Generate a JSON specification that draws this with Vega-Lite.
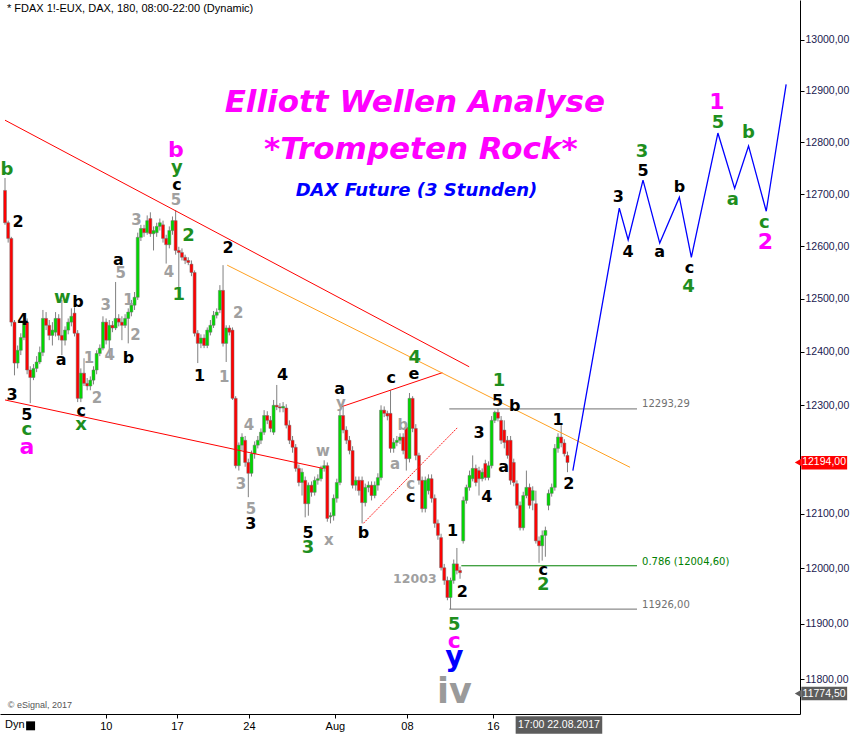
{
"$schema":"https://vega.github.io/schema/vega-lite/v6.json",
"width":800,"height":714,
"autosize":{"type":"none"},
"padding":{"left":0,"top":0,"right":51,"bottom":20},
"background":"white",
"config":{"view":{"stroke":null}},
"resolve":{"axis":{"x":"independent","y":"independent"}},
"datasets":{
"candles":[
{"i":0,"o":12707,"h":12731,"l":12641,"c":12645},{"i":1,"o":12645,"h":12649,"l":12607,"c":12615},{"i":2,"o":12615,"h":12618,"l":12448,"c":12456},{"i":3,"o":12456,"h":12460,"l":12356,"c":12379},{"i":4,"o":12379,"h":12412,"l":12369,"c":12403},{"i":5,"o":12403,"h":12435,"l":12394,"c":12427},{"i":6,"o":12427,"h":12467,"l":12422,"c":12456},{"i":7,"o":12456,"h":12463,"l":12358,"c":12366},{"i":8,"o":12366,"h":12373,"l":12304,"c":12352},{"i":9,"o":12352,"h":12377,"l":12347,"c":12369},
{"i":10,"o":12369,"h":12392,"l":12362,"c":12381},{"i":11,"o":12381,"h":12410,"l":12377,"c":12399},{"i":12,"o":12399,"h":12479,"l":12392,"c":12463},{"i":13,"o":12463,"h":12475,"l":12441,"c":12450},{"i":14,"o":12450,"h":12460,"l":12422,"c":12431},{"i":15,"o":12431,"h":12456,"l":12412,"c":12441},{"i":16,"o":12437,"h":12475,"l":12429,"c":12463},{"i":17,"o":12463,"h":12471,"l":12422,"c":12431},{"i":18,"o":12431,"h":12498,"l":12394,"c":12422},{"i":19,"o":12422,"h":12448,"l":12412,"c":12441},
{"i":20,"o":12441,"h":12463,"l":12433,"c":12456},{"i":21,"o":12456,"h":12482,"l":12448,"c":12467},{"i":22,"o":12473,"h":12484,"l":12429,"c":12435},{"i":23,"o":12435,"h":12441,"l":12306,"c":12313},{"i":24,"o":12313,"h":12369,"l":12306,"c":12360},{"i":25,"o":12360,"h":12388,"l":12336,"c":12341},{"i":26,"o":12341,"h":12351,"l":12328,"c":12336},{"i":27,"o":12336,"h":12354,"l":12328,"c":12347},{"i":28,"o":12347,"h":12373,"l":12339,"c":12366},{"i":29,"o":12366,"h":12403,"l":12358,"c":12397},
{"i":30,"o":12397,"h":12414,"l":12392,"c":12407},{"i":31,"o":12407,"h":12467,"l":12403,"c":12456},{"i":32,"o":12456,"h":12463,"l":12414,"c":12422},{"i":33,"o":12422,"h":12460,"l":12388,"c":12450},{"i":34,"o":12450,"h":12458,"l":12437,"c":12445},{"i":35,"o":12445,"h":12532,"l":12441,"c":12463},{"i":36,"o":12463,"h":12471,"l":12448,"c":12456},{"i":37,"o":12456,"h":12467,"l":12422,"c":12450},{"i":38,"o":12450,"h":12471,"l":12445,"c":12463},{"i":39,"o":12463,"h":12482,"l":12416,"c":12475},
{"i":40,"o":12475,"h":12498,"l":12467,"c":12488},{"i":41,"o":12488,"h":12513,"l":12479,"c":12503},{"i":42,"o":12503,"h":12626,"l":12498,"c":12617},{"i":43,"o":12617,"h":12641,"l":12610,"c":12634},{"i":44,"o":12634,"h":12641,"l":12618,"c":12626},{"i":45,"o":12626,"h":12659,"l":12622,"c":12649},{"i":46,"o":12653,"h":12665,"l":12618,"c":12624},{"i":47,"o":12624,"h":12638,"l":12592,"c":12630},{"i":48,"o":12626,"h":12645,"l":12618,"c":12638},{"i":49,"o":12638,"h":12653,"l":12630,"c":12645},
{"i":50,"o":12641,"h":12649,"l":12607,"c":12615},{"i":51,"o":12615,"h":12622,"l":12567,"c":12603},{"i":52,"o":12603,"h":12638,"l":12596,"c":12630},{"i":53,"o":12630,"h":12657,"l":12622,"c":12649},{"i":54,"o":12649,"h":12669,"l":12584,"c":12592},{"i":55,"o":12592,"h":12599,"l":12516,"c":12588},{"i":56,"o":12588,"h":12596,"l":12573,"c":12579},{"i":57,"o":12579,"h":12584,"l":12566,"c":12573},{"i":58,"o":12573,"h":12579,"l":12564,"c":12569},{"i":59,"o":12566,"h":12573,"l":12543,"c":12550},
{"i":60,"o":12550,"h":12554,"l":12429,"c":12435},{"i":61,"o":12435,"h":12441,"l":12379,"c":12416},{"i":62,"o":12416,"h":12433,"l":12407,"c":12426},{"i":63,"o":12426,"h":12433,"l":12407,"c":12412},{"i":64,"o":12412,"h":12446,"l":12407,"c":12441},{"i":65,"o":12437,"h":12460,"l":12431,"c":12450},{"i":66,"o":12450,"h":12477,"l":12445,"c":12469},{"i":67,"o":12469,"h":12482,"l":12463,"c":12475},{"i":68,"o":12479,"h":12526,"l":12473,"c":12516},{"i":69,"o":12516,"h":12564,"l":12410,"c":12416},
{"i":70,"o":12416,"h":12450,"l":12381,"c":12445},{"i":71,"o":12445,"h":12450,"l":12431,"c":12437},{"i":72,"o":12441,"h":12446,"l":12310,"c":12313},{"i":73,"o":12313,"h":12317,"l":12183,"c":12188},{"i":74,"o":12188,"h":12231,"l":12179,"c":12226},{"i":75,"o":12226,"h":12248,"l":12216,"c":12241},{"i":76,"o":12235,"h":12243,"l":12186,"c":12194},{"i":77,"o":12194,"h":12201,"l":12130,"c":12174},{"i":78,"o":12174,"h":12216,"l":12168,"c":12210},{"i":79,"o":12210,"h":12233,"l":12201,"c":12226},
{"i":80,"o":12226,"h":12243,"l":12220,"c":12235},{"i":81,"o":12235,"h":12257,"l":12228,"c":12250},{"i":82,"o":12250,"h":12291,"l":12245,"c":12281},{"i":83,"o":12281,"h":12289,"l":12265,"c":12272},{"i":84,"o":12272,"h":12280,"l":12250,"c":12257},{"i":85,"o":12250,"h":12310,"l":12245,"c":12300},{"i":86,"o":12300,"h":12338,"l":12291,"c":12297},{"i":87,"o":12297,"h":12304,"l":12287,"c":12295},{"i":88,"o":12295,"h":12306,"l":12287,"c":12298},{"i":89,"o":12295,"h":12302,"l":12257,"c":12263},
{"i":90,"o":12263,"h":12272,"l":12228,"c":12235},{"i":91,"o":12235,"h":12243,"l":12212,"c":12222},{"i":92,"o":12222,"h":12228,"l":12177,"c":12183},{"i":93,"o":12183,"h":12190,"l":12150,"c":12157},{"i":94,"o":12157,"h":12183,"l":12133,"c":12176},{"i":95,"o":12161,"h":12168,"l":12093,"c":12118},{"i":96,"o":12118,"h":12157,"l":12096,"c":12152},{"i":97,"o":12152,"h":12159,"l":12131,"c":12139},{"i":98,"o":12139,"h":12168,"l":12133,"c":12161},{"i":99,"o":12161,"h":12172,"l":12153,"c":12164},
{"i":100,"o":12164,"h":12188,"l":12159,"c":12183},{"i":101,"o":12183,"h":12198,"l":12177,"c":12188},{"i":102,"o":12188,"h":12194,"l":12085,"c":12091},{"i":103,"o":12094,"h":12102,"l":12082,"c":12096},{"i":104,"o":12096,"h":12135,"l":12087,"c":12128},{"i":105,"o":12128,"h":12164,"l":12120,"c":12157},{"i":106,"o":12157,"h":12291,"l":12152,"c":12281},{"i":107,"o":12281,"h":12297,"l":12248,"c":12254},{"i":108,"o":12254,"h":12261,"l":12228,"c":12235},{"i":109,"o":12235,"h":12243,"l":12209,"c":12216},
{"i":110,"o":12216,"h":12224,"l":12146,"c":12152},{"i":111,"o":12152,"h":12168,"l":12142,"c":12161},{"i":112,"o":12161,"h":12168,"l":12133,"c":12142},{"i":113,"o":12161,"h":12168,"l":12082,"c":12120},{"i":114,"o":12120,"h":12155,"l":12113,"c":12148},{"i":115,"o":12148,"h":12159,"l":12139,"c":12152},{"i":116,"o":12152,"h":12159,"l":12124,"c":12133},{"i":117,"o":12133,"h":12159,"l":12128,"c":12152},{"i":118,"o":12152,"h":12174,"l":12142,"c":12166},{"i":119,"o":12166,"h":12300,"l":12161,"c":12291},
{"i":120,"o":12291,"h":12298,"l":12278,"c":12285},{"i":121,"o":12285,"h":12290,"l":12272,"c":12280},{"i":122,"o":12285,"h":12328,"l":12212,"c":12220},{"i":123,"o":12220,"h":12239,"l":12212,"c":12231},{"i":124,"o":12231,"h":12243,"l":12224,"c":12235},{"i":125,"o":12235,"h":12248,"l":12228,"c":12241},{"i":126,"o":12241,"h":12248,"l":12209,"c":12216},{"i":127,"o":12259,"h":12267,"l":12179,"c":12201},{"i":128,"o":12201,"h":12323,"l":12194,"c":12313},{"i":129,"o":12313,"h":12317,"l":12250,"c":12257},
{"i":130,"o":12257,"h":12265,"l":12198,"c":12207},{"i":131,"o":12207,"h":12212,"l":12153,"c":12161},{"i":132,"o":12161,"h":12168,"l":12102,"c":12109},{"i":133,"o":12109,"h":12168,"l":12102,"c":12161},{"i":134,"o":12142,"h":12172,"l":12135,"c":12164},{"i":135,"o":12164,"h":12172,"l":12120,"c":12128},{"i":136,"o":12128,"h":12135,"l":12074,"c":12082},{"i":137,"o":12082,"h":12089,"l":12052,"c":12060},{"i":138,"o":12056,"h":12063,"l":11996,"c":12001},{"i":139,"o":12001,"h":12008,"l":11970,"c":11978},
{"i":140,"o":11978,"h":11985,"l":11942,"c":11947},{"i":141,"o":11947,"h":11983,"l":11926,"c":11978},{"i":142,"o":11978,"h":12016,"l":11972,"c":12008},{"i":143,"o":12008,"h":12037,"l":11989,"c":11996},{"i":144,"o":11996,"h":12003,"l":11981,"c":11992},{"i":145,"o":12050,"h":12131,"l":12045,"c":12124},{"i":146,"o":12124,"h":12153,"l":12118,"c":12148},{"i":147,"o":12148,"h":12179,"l":12142,"c":12170},{"i":148,"o":12164,"h":12207,"l":12159,"c":12183},{"i":149,"o":12183,"h":12190,"l":12150,"c":12157},
{"i":150,"o":12179,"h":12186,"l":12133,"c":12164},{"i":151,"o":12164,"h":12183,"l":12159,"c":12176},{"i":152,"o":12192,"h":12199,"l":12161,"c":12166},{"i":153,"o":12166,"h":12196,"l":12161,"c":12188},{"i":154,"o":12188,"h":12280,"l":12183,"c":12272},{"i":155,"o":12272,"h":12290,"l":12267,"c":12287},{"i":156,"o":12287,"h":12293.29,"l":12270,"c":12276},{"i":157,"o":12272,"h":12280,"l":12228,"c":12235},{"i":158,"o":12254,"h":12272,"l":12220,"c":12231},{"i":159,"o":12235,"h":12243,"l":12201,"c":12207},
{"i":160,"o":12235,"h":12243,"l":12153,"c":12161},{"i":161,"o":12194,"h":12201,"l":12150,"c":12157},{"i":162,"o":12155,"h":12161,"l":12109,"c":12115},{"i":163,"o":12115,"h":12122,"l":12069,"c":12074},{"i":164,"o":12074,"h":12140,"l":12069,"c":12133},{"i":165,"o":12133,"h":12179,"l":12128,"c":12148},{"i":166,"o":12148,"h":12155,"l":12109,"c":12115},{"i":167,"o":12124,"h":12150,"l":12106,"c":12142},{"i":168,"o":12118,"h":12142,"l":12045,"c":12050},{"i":169,"o":12050,"h":12058,"l":12010,"c":12041},
{"i":170,"o":12041,"h":12069,"l":12014,"c":12060},{"i":171,"o":12060,"h":12076,"l":12021,"c":12069},{"i":172,"o":12115,"h":12144,"l":12106,"c":12137},{"i":173,"o":12137,"h":12155,"l":12131,"c":12148},{"i":174,"o":12148,"h":12228,"l":12142,"c":12220},{"i":175,"o":12220,"h":12248,"l":12212,"c":12241},{"i":176,"o":12241,"h":12263,"l":12222,"c":12230},{"i":177,"o":12230,"h":12237,"l":12205,"c":12210},{"i":178,"o":12207,"h":12214,"l":12176,"c":12194}
],
"lines":[
{"line":"upper","x":0,"p":12843},{"line":"upper","x":146.9,"p":12372},
{"line":"lower","x":0,"p":12310},{"line":"lower","x":100.6,"p":12183},
{"line":"ace","x":106.3,"p":12297},{"line":"ace","x":138.4,"p":12361},
{"line":"bd","x":113.4,"p":12082},{"line":"bd","x":143.1,"p":12258},
{"line":"orange","x":70.3,"p":12564},{"line":"orange","x":197.8,"p":12185},
{"line":"f1","x":140.6,"p":12293.29},{"line":"f1","x":200,"p":12293.29},
{"line":"f0","x":140.6,"p":11926},{"line":"f0","x":200,"p":11926},
{"line":"f786","x":144.4,"p":12004.6},{"line":"f786","x":200,"p":12004.6},
{"line":"proj","x":179.7,"p":12179},{"line":"proj","x":194.4,"p":12673},{"line":"proj","x":197.2,"p":12612},{"line":"proj","x":201.9,"p":12727},{"line":"proj","x":207.2,"p":12606},{"line":"proj","x":213.4,"p":12694},{"line":"proj","x":217.2,"p":12579},{"line":"proj","x":225.6,"p":12818},{"line":"proj","x":230.9,"p":12711},{"line":"proj","x":235.3,"p":12793},{"line":"proj","x":240.9,"p":12667},{"line":"proj","x":247.2,"p":12913}
],
"labels":[
{"deg":"minute","t":"2","x":4.1,"p":12646},{"deg":"minute","t":"4","x":5.6,"p":12460},{"deg":"minute","t":"3","x":2.2,"p":12320},{"deg":"minute","t":"5","x":6.9,"p":12282},{"deg":"minute","t":"b","x":23.1,"p":12494},{"deg":"minute","t":"c","x":24.1,"p":12290},{"deg":"minute","t":"a","x":17.8,"p":12385},{"deg":"minute","t":"a","x":35.9,"p":12573},{"deg":"minute","t":"b","x":39.1,"p":12389},{"deg":"minute","t":"c","x":54.4,"p":12717},{"deg":"minute","t":"1","x":61.6,"p":12355},{"deg":"minute","t":"2","x":70.6,"p":12596},{"deg":"minute","t":"4","x":87.8,"p":12357},{"deg":"minute","t":"3","x":77.8,"p":12080},{"deg":"minute","t":"5","x":95.9,"p":12064},{"deg":"minute","t":"a","x":105.9,"p":12331},{"deg":"minute","t":"b","x":113.4,"p":12064},{"deg":"minute","t":"c","x":122.2,"p":12351},{"deg":"minute","t":"e","x":129.4,"p":12359},{"deg":"minute","t":"c","x":128.4,"p":12130},{"deg":"minute","t":"1","x":141.6,"p":12068},{"deg":"minute","t":"2","x":144.7,"p":11957},{"deg":"minute","t":"3","x":150,"p":12249},{"deg":"minute","t":"4","x":152.5,"p":12130},{"deg":"minute","t":"a","x":157.8,"p":12185},{"deg":"minute","t":"5","x":155.9,"p":12308},{"deg":"minute","t":"b","x":161.3,"p":12299},{"deg":"minute","t":"1","x":175,"p":12273},{"deg":"minute","t":"2","x":178.4,"p":12154},{"deg":"minute","t":"c","x":170.3,"p":11997},{"deg":"minute","t":"3","x":194.1,"p":12694},{"deg":"minute","t":"4","x":197.2,"p":12589},{"deg":"minute","t":"5","x":201.9,"p":12744},{"deg":"minute","t":"a","x":207.2,"p":12589},{"deg":"minute","t":"b","x":213.4,"p":12713},{"deg":"minute","t":"c","x":216.6,"p":12558},
{"deg":"minuette","t":"1","x":26.6,"p":12389},{"deg":"minuette","t":"2","x":29.1,"p":12314},{"deg":"minuette","t":"3","x":31.9,"p":12488},{"deg":"minuette","t":"4","x":33.1,"p":12394},{"deg":"minuette","t":"5","x":36.6,"p":12549},{"deg":"minuette","t":"1","x":39.1,"p":12498},{"deg":"minuette","t":"2","x":41.3,"p":12432},{"deg":"minuette","t":"3","x":41.6,"p":12650},{"deg":"minuette","t":"4","x":51.9,"p":12551},{"deg":"minuette","t":"5","x":54.1,"p":12688},{"deg":"minuette","t":"1","x":69.4,"p":12353},{"deg":"minuette","t":"2","x":73.8,"p":12473},{"deg":"minuette","t":"4","x":77.2,"p":12264},{"deg":"minuette","t":"3","x":74.7,"p":12155},{"deg":"minuette","t":"5","x":77.8,"p":12108},{"deg":"minuette","t":"w","x":100.6,"p":12216},{"deg":"minuette","t":"x","x":102.5,"p":12051},{"deg":"minuette","t":"y","x":106.3,"p":12305},{"deg":"minuette","t":"b","x":125.9,"p":12264},{"deg":"minuette","t":"a","x":123.4,"p":12192},{"deg":"minuette","t":"c","x":128.4,"p":12155},
{"deg":"level","t":"12003","x":129.7,"p":11980},
{"deg":"minor","t":"b","x":0.6,"p":12746},{"deg":"minor","t":"c","x":6.9,"p":12255},{"deg":"minor","t":"w","x":18.1,"p":12501},{"deg":"minor","t":"x","x":24.1,"p":12264},{"deg":"minor","t":"y","x":54.4,"p":12750},{"deg":"minor","t":"2","x":58.1,"p":12619},{"deg":"minor","t":"1","x":55,"p":12507},{"deg":"minor","t":"3","x":95.9,"p":12037},{"deg":"minor","t":"4","x":129.7,"p":12389},{"deg":"minor","t":"1","x":156.3,"p":12346},{"deg":"minor","t":"5","x":142.2,"p":11897},{"deg":"minor","t":"2","x":170.3,"p":11969},{"deg":"minor","t":"3","x":201.6,"p":12781},{"deg":"minor","t":"4","x":216.3,"p":12522},{"deg":"minor","t":"5","x":225.6,"p":12837},{"deg":"minor","t":"a","x":230.3,"p":12688},{"deg":"minor","t":"b","x":235.3,"p":12818},{"deg":"minor","t":"c","x":240.3,"p":12644},
{"deg":"intermediate","t":"a","x":6.9,"p":12223},{"deg":"intermediate","t":"b","x":54.1,"p":12785},{"deg":"intermediate","t":"c","x":142.2,"p":11868},{"deg":"intermediate","t":"1","x":225.3,"p":12878},{"deg":"intermediate","t":"2","x":240.6,"p":12608},
{"deg":"primary","t":"y","x":142.2,"p":11838},
{"deg":"cycle","t":"iv","x":142.2,"p":11778},
{"deg":"title","t":"Elliott Wellen Analyse","x":129.7,"p":12876},{"deg":"title","t":"*Trompeten Rock*","x":131.6,"p":12785},
{"deg":"subtitle","t":"DAX Future (3 Stunden)","x":130.2,"p":12705},
{"deg":"fib","t":"12293,29","x":201.6,"p":12303},{"deg":"fib","t":"11926,00","x":201.6,"p":11933},
{"deg":"fib786","t":"0.786 (12004,60)","x":201.6,"p":12011},
{"deg":"header","t":"* FDAX 1!-EUX, DAX, 180, 08:00-22:00 (Dynamic)","x":0.6,"p":13061},
{"deg":"copyright","t":"© eSignal, 2017","x":0.9,"p":11754},
{"deg":"dyn","t":"Dyn","x":0,"p":11718},
{"deg":"tag","t":"12194,00","x":259.2,"p":12194},{"deg":"tag","t":"11774,50","x":259.2,"p":11774.5},{"deg":"tag","t":"17:00 22.08.2017","x":175.3,"p":11719}
],
"boxes":[
{"box":"last","x":252,"x2":266.5,"p":12206,"p2":12181},
{"box":"cross","x":252,"x2":266.5,"p":11786.5,"p2":11762.5},
{"box":"date","x":161.6,"x2":189,"p":11734,"p2":11703}
],
"arrows":[{"box":"last","x":251,"p":12194},{"box":"cross","x":251,"p":11774.5},{"box":"lock","x":8.1,"p":11717}]
},
"layer":[
{"data":{"name":"candles"},"mark":{"type":"rule","color":"#808080","strokeWidth":1},
"encoding":{
"x":{"field":"i","type":"quantitative","scale":{"domain":[0,250],"nice":false,"zero":false},
"axis":{"orient":"bottom","values":[31.9,54.4,77.2,104.4,127.2,154.4],"labelExpr":"datum.value < 40 ? '10' : datum.value < 60 ? '17' : datum.value < 90 ? '24' : datum.value < 110 ? 'Aug' : datum.value < 140 ? '08' : '16'","title":null,"grid":false,"domainColor":"#000000","tickColor":"#000000","tickSize":4,"labelFont":"Liberation Sans","labelFontSize":11,"labelColor":"#000000","labelPadding":2,"labelFlush":false,"labelOverlap":false}},
"y":{"field":"l","type":"quantitative","scale":{"type":"log","domain":[11738,13079],"nice":false},
"axis":{"orient":"right","values":[11800,11900,12000,12100,12300,12400,12500,12600,12700,12800,12900,13000],"labelExpr":"replace(format(datum.value, '.2f'), '.', ',')","title":null,"grid":false,"domainColor":"#000000","tickColor":"#000000","tickSize":4,"labelFont":"Liberation Sans","labelFontSize":10.5,"labelColor":"#202050","labelPadding":1,"labelOverlap":false,"labelFlush":false}},
"y2":{"field":"h"}}},
{"data":{"name":"candles"},"mark":{"type":"bar","width":3,"stroke":"#707070","strokeWidth":0.5},
"encoding":{
"x":{"field":"i","type":"quantitative","scale":{"domain":[0,250],"nice":false,"zero":false},"axis":null},
"y":{"field":"o","type":"quantitative","scale":{"type":"log","domain":[11738,13079],"nice":false},"axis":null},
"y2":{"field":"c"},
"fill":{"condition":{"test":"datum.c < datum.o","value":"#ff0000"},"value":"#00d800"}}},
{"data":{"name":"lines"},"transform":[{"filter":"datum.line == 'upper' || datum.line == 'lower' || datum.line == 'ace'"}],"mark":{"type":"line","color":"#ff0000","strokeWidth":1},
"encoding":{"x":{"field":"x","type":"quantitative","scale":{"domain":[0,250],"nice":false,"zero":false},"axis":null},"y":{"field":"p","type":"quantitative","scale":{"type":"log","domain":[11738,13079],"nice":false},"axis":null},"detail":{"field":"line"}}},
{"data":{"name":"lines"},"transform":[{"filter":"datum.line == 'bd'"}],"mark":{"type":"line","color":"#ff2020","strokeWidth":1,"strokeDash":[2,1]},
"encoding":{"x":{"field":"x","type":"quantitative","scale":{"domain":[0,250],"nice":false,"zero":false},"axis":null},"y":{"field":"p","type":"quantitative","scale":{"type":"log","domain":[11738,13079],"nice":false},"axis":null}}},
{"data":{"name":"lines"},"transform":[{"filter":"datum.line == 'orange'"}],"mark":{"type":"line","color":"#ffa020","strokeWidth":1},
"encoding":{"x":{"field":"x","type":"quantitative","scale":{"domain":[0,250],"nice":false,"zero":false},"axis":null},"y":{"field":"p","type":"quantitative","scale":{"type":"log","domain":[11738,13079],"nice":false},"axis":null}}},
{"data":{"name":"lines"},"transform":[{"filter":"datum.line == 'f1' || datum.line == 'f0'"}],"mark":{"type":"line","color":"#707070","strokeWidth":1},
"encoding":{"x":{"field":"x","type":"quantitative","scale":{"domain":[0,250],"nice":false,"zero":false},"axis":null},"y":{"field":"p","type":"quantitative","scale":{"type":"log","domain":[11738,13079],"nice":false},"axis":null},"detail":{"field":"line"}}},
{"data":{"name":"lines"},"transform":[{"filter":"datum.line == 'f786'"}],"mark":{"type":"line","color":"#008000","strokeWidth":1},
"encoding":{"x":{"field":"x","type":"quantitative","scale":{"domain":[0,250],"nice":false,"zero":false},"axis":null},"y":{"field":"p","type":"quantitative","scale":{"type":"log","domain":[11738,13079],"nice":false},"axis":null}}},
{"data":{"name":"lines"},"transform":[{"filter":"datum.line == 'proj'"}],"mark":{"type":"line","color":"#0000ff","strokeWidth":1.3},
"encoding":{"x":{"field":"x","type":"quantitative","scale":{"domain":[0,250],"nice":false,"zero":false},"axis":null},"y":{"field":"p","type":"quantitative","scale":{"type":"log","domain":[11738,13079],"nice":false},"axis":null}}},
{"data":{"name":"boxes"},"transform":[{"filter":"datum.box == 'last'"}],"mark":{"type":"rect","color":"#ff0000"},
"encoding":{"x":{"field":"x","type":"quantitative","scale":{"domain":[0,250],"nice":false,"zero":false},"axis":null},"x2":{"field":"x2"},"y":{"field":"p","type":"quantitative","scale":{"type":"log","domain":[11738,13079],"nice":false},"axis":null},"y2":{"field":"p2"}}},
{"data":{"name":"boxes"},"transform":[{"filter":"datum.box != 'last'"}],"mark":{"type":"rect","color":"#5c5c5c"},
"encoding":{"x":{"field":"x","type":"quantitative","scale":{"domain":[0,250],"nice":false,"zero":false},"axis":null},"x2":{"field":"x2"},"y":{"field":"p","type":"quantitative","scale":{"type":"log","domain":[11738,13079],"nice":false},"axis":null},"y2":{"field":"p2"}}},
{"data":{"name":"arrows"},"transform":[{"filter":"datum.box == 'last'"}],"mark":{"type":"point","shape":"triangle-left","filled":true,"size":60,"color":"#ff0000","opacity":1},
"encoding":{"x":{"field":"x","type":"quantitative","scale":{"domain":[0,250],"nice":false,"zero":false},"axis":null},"y":{"field":"p","type":"quantitative","scale":{"type":"log","domain":[11738,13079],"nice":false},"axis":null}}},
{"data":{"name":"arrows"},"transform":[{"filter":"datum.box == 'cross'"}],"mark":{"type":"point","shape":"triangle-left","filled":true,"size":60,"color":"#5c5c5c","opacity":1},
"encoding":{"x":{"field":"x","type":"quantitative","scale":{"domain":[0,250],"nice":false,"zero":false},"axis":null},"y":{"field":"p","type":"quantitative","scale":{"type":"log","domain":[11738,13079],"nice":false},"axis":null}}},
{"data":{"name":"arrows"},"transform":[{"filter":"datum.box == 'lock'"}],"mark":{"type":"point","shape":"square","filled":true,"size":80,"color":"#000000","opacity":1},
"encoding":{"x":{"field":"x","type":"quantitative","scale":{"domain":[0,250],"nice":false,"zero":false},"axis":null},"y":{"field":"p","type":"quantitative","scale":{"type":"log","domain":[11738,13079],"nice":false},"axis":null}}},
{"data":{"name":"labels"},"transform":[{"filter":"datum.deg == 'minute'"}],"mark":{"type":"text","font":"DejaVu Sans","fontWeight":"bold","fontSize":16,"color":"#000000","align":"center","baseline":"middle"},
"encoding":{"x":{"field":"x","type":"quantitative","scale":{"domain":[0,250],"nice":false,"zero":false},"axis":null},"y":{"field":"p","type":"quantitative","scale":{"type":"log","domain":[11738,13079],"nice":false},"axis":null},"text":{"field":"t"}}},
{"data":{"name":"labels"},"transform":[{"filter":"datum.deg == 'minuette'"}],"mark":{"type":"text","font":"DejaVu Sans","fontWeight":"bold","fontSize":15,"color":"#a0a0a0","align":"center","baseline":"middle"},
"encoding":{"x":{"field":"x","type":"quantitative","scale":{"domain":[0,250],"nice":false,"zero":false},"axis":null},"y":{"field":"p","type":"quantitative","scale":{"type":"log","domain":[11738,13079],"nice":false},"axis":null},"text":{"field":"t"}}},
{"data":{"name":"labels"},"transform":[{"filter":"datum.deg == 'level'"}],"mark":{"type":"text","font":"DejaVu Sans","fontWeight":"bold","fontSize":12.5,"color":"#a0a0a0","align":"center","baseline":"middle"},
"encoding":{"x":{"field":"x","type":"quantitative","scale":{"domain":[0,250],"nice":false,"zero":false},"axis":null},"y":{"field":"p","type":"quantitative","scale":{"type":"log","domain":[11738,13079],"nice":false},"axis":null},"text":{"field":"t"}}},
{"data":{"name":"labels"},"transform":[{"filter":"datum.deg == 'minor'"}],"mark":{"type":"text","font":"DejaVu Sans","fontWeight":"bold","fontSize":18,"color":"#1e8f1e","align":"center","baseline":"middle"},
"encoding":{"x":{"field":"x","type":"quantitative","scale":{"domain":[0,250],"nice":false,"zero":false},"axis":null},"y":{"field":"p","type":"quantitative","scale":{"type":"log","domain":[11738,13079],"nice":false},"axis":null},"text":{"field":"t"}}},
{"data":{"name":"labels"},"transform":[{"filter":"datum.deg == 'intermediate'"}],"mark":{"type":"text","font":"DejaVu Sans","fontWeight":"bold","fontSize":22,"color":"#ff00ff","align":"center","baseline":"middle"},
"encoding":{"x":{"field":"x","type":"quantitative","scale":{"domain":[0,250],"nice":false,"zero":false},"axis":null},"y":{"field":"p","type":"quantitative","scale":{"type":"log","domain":[11738,13079],"nice":false},"axis":null},"text":{"field":"t"}}},
{"data":{"name":"labels"},"transform":[{"filter":"datum.deg == 'primary'"}],"mark":{"type":"text","font":"DejaVu Sans","fontWeight":"bold","fontSize":28,"color":"#0000ff","align":"center","baseline":"middle"},
"encoding":{"x":{"field":"x","type":"quantitative","scale":{"domain":[0,250],"nice":false,"zero":false},"axis":null},"y":{"field":"p","type":"quantitative","scale":{"type":"log","domain":[11738,13079],"nice":false},"axis":null},"text":{"field":"t"}}},
{"data":{"name":"labels"},"transform":[{"filter":"datum.deg == 'cycle'"}],"mark":{"type":"text","font":"DejaVu Sans","fontWeight":"bold","fontSize":35,"color":"#9a9a9a","align":"center","baseline":"middle"},
"encoding":{"x":{"field":"x","type":"quantitative","scale":{"domain":[0,250],"nice":false,"zero":false},"axis":null},"y":{"field":"p","type":"quantitative","scale":{"type":"log","domain":[11738,13079],"nice":false},"axis":null},"text":{"field":"t"}}},
{"data":{"name":"labels"},"transform":[{"filter":"datum.deg == 'title'"}],"mark":{"type":"text","font":"DejaVu Sans","fontWeight":"bold","fontStyle":"italic","fontSize":31,"color":"#ff00ff","align":"center","baseline":"middle"},
"encoding":{"x":{"field":"x","type":"quantitative","scale":{"domain":[0,250],"nice":false,"zero":false},"axis":null},"y":{"field":"p","type":"quantitative","scale":{"type":"log","domain":[11738,13079],"nice":false},"axis":null},"text":{"field":"t"}}},
{"data":{"name":"labels"},"transform":[{"filter":"datum.deg == 'subtitle'"}],"mark":{"type":"text","font":"DejaVu Sans","fontWeight":"bold","fontStyle":"italic","fontSize":18,"color":"#0000ff","align":"center","baseline":"middle"},
"encoding":{"x":{"field":"x","type":"quantitative","scale":{"domain":[0,250],"nice":false,"zero":false},"axis":null},"y":{"field":"p","type":"quantitative","scale":{"type":"log","domain":[11738,13079],"nice":false},"axis":null},"text":{"field":"t"}}},
{"data":{"name":"labels"},"transform":[{"filter":"datum.deg == 'fib'"}],"mark":{"type":"text","font":"DejaVu Sans","fontSize":10,"color":"#707070","align":"left","baseline":"middle"},
"encoding":{"x":{"field":"x","type":"quantitative","scale":{"domain":[0,250],"nice":false,"zero":false},"axis":null},"y":{"field":"p","type":"quantitative","scale":{"type":"log","domain":[11738,13079],"nice":false},"axis":null},"text":{"field":"t"}}},
{"data":{"name":"labels"},"transform":[{"filter":"datum.deg == 'fib786'"}],"mark":{"type":"text","font":"DejaVu Sans","fontSize":10,"color":"#008000","align":"left","baseline":"middle"},
"encoding":{"x":{"field":"x","type":"quantitative","scale":{"domain":[0,250],"nice":false,"zero":false},"axis":null},"y":{"field":"p","type":"quantitative","scale":{"type":"log","domain":[11738,13079],"nice":false},"axis":null},"text":{"field":"t"}}},
{"data":{"name":"labels"},"transform":[{"filter":"datum.deg == 'header'"}],"mark":{"type":"text","font":"Liberation Sans","fontSize":11,"color":"#000000","align":"left","baseline":"middle"},
"encoding":{"x":{"field":"x","type":"quantitative","scale":{"domain":[0,250],"nice":false,"zero":false},"axis":null},"y":{"field":"p","type":"quantitative","scale":{"type":"log","domain":[11738,13079],"nice":false},"axis":null},"text":{"field":"t"}}},
{"data":{"name":"labels"},"transform":[{"filter":"datum.deg == 'copyright'"}],"mark":{"type":"text","font":"Liberation Sans","fontSize":9,"color":"#555555","align":"left","baseline":"middle"},
"encoding":{"x":{"field":"x","type":"quantitative","scale":{"domain":[0,250],"nice":false,"zero":false},"axis":null},"y":{"field":"p","type":"quantitative","scale":{"type":"log","domain":[11738,13079],"nice":false},"axis":null},"text":{"field":"t"}}},
{"data":{"name":"labels"},"transform":[{"filter":"datum.deg == 'dyn'"}],"mark":{"type":"text","font":"Liberation Sans","fontSize":11,"color":"#000000","align":"left","baseline":"middle"},
"encoding":{"x":{"field":"x","type":"quantitative","scale":{"domain":[0,250],"nice":false,"zero":false},"axis":null},"y":{"field":"p","type":"quantitative","scale":{"type":"log","domain":[11738,13079],"nice":false},"axis":null},"text":{"field":"t"}}},
{"data":{"name":"labels"},"transform":[{"filter":"datum.deg == 'tag'"}],"mark":{"type":"text","font":"Liberation Sans","fontSize":10.5,"color":"#ffffff","align":"center","baseline":"middle"},
"encoding":{"x":{"field":"x","type":"quantitative","scale":{"domain":[0,250],"nice":false,"zero":false},"axis":null},"y":{"field":"p","type":"quantitative","scale":{"type":"log","domain":[11738,13079],"nice":false},"axis":null},"text":{"field":"t"}}}
]
}
